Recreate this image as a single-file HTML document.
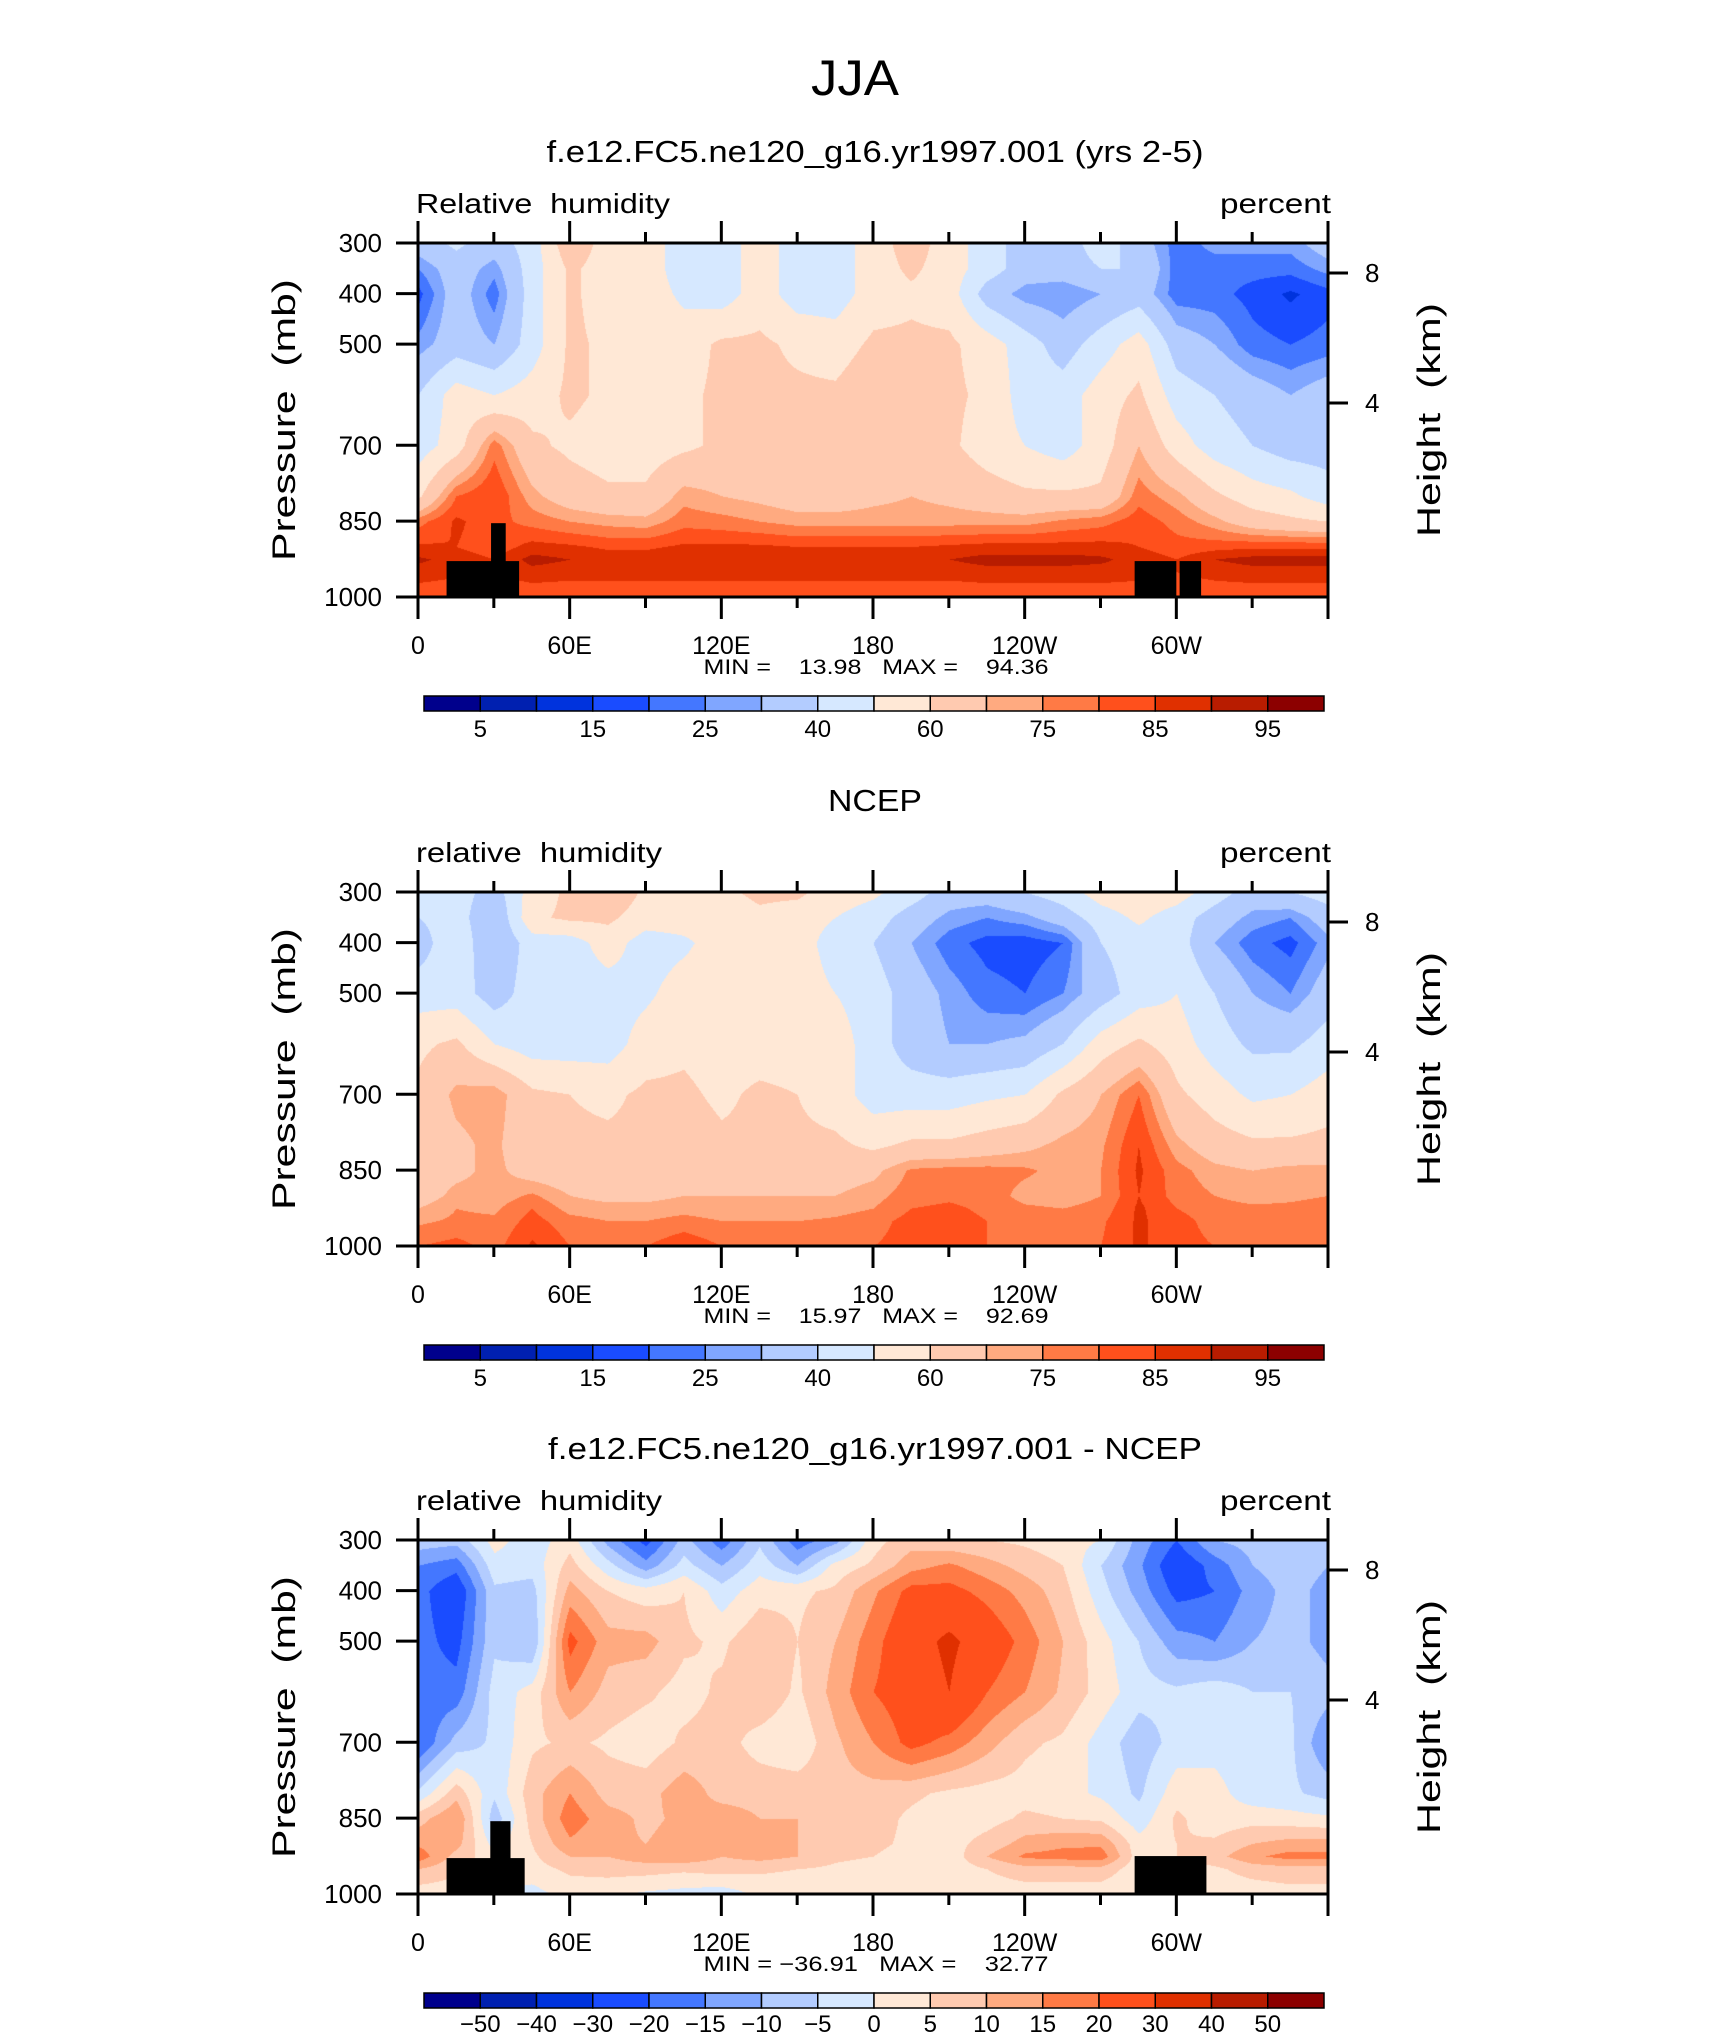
<!DOCTYPE html>
<html><head><meta charset="utf-8">
<style>
html,body{margin:0;padding:0;background:#fff;}
#root{position:relative;width:1710px;height:2038px;overflow:hidden;background:#fff;}
canvas{position:absolute;}
svg{position:absolute;left:0;top:0;}
text{font-family:"Liberation Sans",sans-serif;fill:#000;white-space:pre;}
</style></head>
<body>
<div id="root">
<canvas id="c0" width="910" height="354" style="left:418px;top:243px"></canvas>
<canvas id="c1" width="910" height="354" style="left:418px;top:892px"></canvas>
<canvas id="c2" width="910" height="354" style="left:418px;top:1540px"></canvas>
<svg id="ov" width="1710" height="2038"></svg>
</div>
<script>
// ---- data ----
const lons = [0,15,30,45,60,75,90,105,120,135,150,165,180,195,210,225,240,255,270,285,300,315,330,345,360];
const levels = [300,350,400,500,600,700,800,850,900,925,950,1000];
const modelRH = [
[35,42,35,45,68,55,55,45,45,55,45,45,55,65,55,45,35,35,45,35,22,27,27,27,35],
[25,35,27,45,62,55,55,45,45,55,45,45,55,62,55,45,35,35,40,40,22,22,22,22,27],
[18,35,22,45,62,55,55,48,45,55,45,45,55,58,55,35,27,25,30,35,22,22,18,14,18],
[27,35,30,45,62,58,56,55,62,62,58,55,62,62,62,55,45,35,45,55,35,30,22,20,22],
[40,55,50,55,62,58,55,58,62,62,62,62,68,62,62,58,45,45,55,62,45,40,35,30,35],
[45,55,78,62,58,55,55,58,62,62,62,62,62,62,62,55,50,45,55,70,55,45,40,35,35],
[58,80,85,72,65,62,62,73,70,68,65,65,68,70,68,65,62,62,62,78,72,62,55,52,45],
[78,86,82,78,75,73,72,78,77,75,73,73,73,73,73,73,73,76,78,83,78,72,65,62,60],
[86,85,82,87,86,84,84,86,86,86,85,85,85,85,86,87,87,87,87,85,82,83,84,84,84],
[91,88,85,92,90,88,88,89,88,88,88,88,88,88,90,92,92,92,91,88,85,90,92,92,92],
[88,86,85,88,87,87,87,87,87,87,87,87,87,87,87,88,88,88,88,87,85,87,88,88,88],
[81,81,81,81,81,81,81,81,81,81,81,81,81,81,81,81,81,81,81,81,81,81,81,81,81]];
const ncepRH = [
[45,45,35,55,62,68,58,55,58,62,62,55,52,45,35,35,40,45,55,58,55,45,35,40,45],
[40,45,30,58,62,62,55,55,55,58,55,50,45,35,28,25,28,35,45,52,45,35,28,25,35],
[35,48,30,45,45,55,45,48,55,55,55,45,40,30,22,18,17,20,40,45,45,30,22,18,28],
[45,45,35,45,45,45,48,55,55,55,55,50,45,35,28,22,20,25,35,45,50,40,30,25,35],
[58,62,50,45,45,45,55,58,55,55,55,55,45,35,30,30,32,40,55,62,55,45,38,38,45],
[62,72,74,62,60,58,62,62,58,62,60,55,45,45,45,48,50,62,70,80,62,55,48,50,55],
[62,68,72,62,62,62,62,65,62,62,62,62,58,62,62,65,68,72,74,85,72,65,62,62,63],
[65,68,72,66,64,62,63,64,64,64,65,66,68,76,77,77,76,73,75,86,77,72,70,72,72],
[66,72,72,76,70,68,68,70,70,70,70,70,73,78,79,78,73,72,75,85,78,75,73,74,75],
[70,75,74,80,73,72,72,73,72,72,72,73,75,80,81,79,76,75,77,86,80,77,76,76,77],
[74,76,76,82,77,75,75,77,75,75,75,76,78,82,82,80,78,78,79,86,82,78,78,78,78],
[80,82,78,86,80,80,80,84,80,80,78,80,80,82,82,80,80,80,80,86,82,80,80,80,80]];
const diffRH = [
[-7,-8,2,-3,3,-12,-22,-8,-18,-6,-18,-12,3,8,6,5,4,2,0,-12,-20,-10,-8,-6,-7],
[-15,-18,-2,-3,7,-3,-13,-3,-10,-2,-10,2,6,13,16,12,8,5,-5,-14,-25,-18,-10,-7,-10],
[-18,-25,-6,-7,12,5,2,5,-3,3,4,6,14,22,22,18,13,7,-3,-12,-22,-20,-13,-8,-12],
[-18,-22,-6,-10,22,12,12,6,4,9,5,10,18,26,32,25,18,10,2,-5,-13,-15,-10,-8,-12],
[-18,-18,-3,2,15,8,6,3,6,9,4,12,20,24,30,20,15,9,3,-3,-4,-2,-5,-5,-8],
[-20,-8,-4,4,6,4,2,6,7,3,1,9,15,22,18,12,6,4,-2,-8,-3,-2,-4,-4,-15],
[-4,8,-4,8,15,8,8,13,8,8,8,8,8,6,4,3,3,2,-1,-6,3,2,-3,-4,-7],
[8,15,-8,7,18,12,9,11,13,10,10,9,7,4,2,3,6,5,4,-3,6,2,3,2,1],
[14,12,-2,5,14,11,10,12,10,12,10,8,6,4,3,7,12,14,14,2,5,6,10,12,12],
[18,8,2,4,10,10,13,14,10,12,10,6,5,3,2,10,16,17,18,2,5,8,14,17,17],
[10,6,2,3,6,7,7,6,7,6,5,4,3,2,2,5,8,8,8,2,3,4,7,8,8],
[2,2,0,-2,2,1,-1,-2,-3,1,1,1,1,1,2,2,2,2,2,1,1,2,2,3,3]];
const rhBounds = [5,10,15,20,25,30,40,50,60,70,75,80,85,90,95];
const diffBounds = [-50,-40,-30,-20,-15,-10,-5,0,5,10,15,20,30,40,50];
const palette = ["#00008c","#0020b0","#0033dd","#1a4cff","#4477ff","#80a6ff","#b3ccff","#d6e8ff","#ffe8d6","#ffcab0","#ffaa80","#ff7a45","#ff501c","#e03000","#b81c00","#8c0000"];
const rhLabels = ["5","15","25","40","60","75","85","95"];
const diffLabels = ["\u221250","\u221240","\u221230","\u221220","\u221215","\u221210","\u22125","0","5","10","15","20","30","40","50"];
// topography masks: [lonStart, lonEnd, topPressure]
const topoModel = [[11.3,40,929],[28.9,34.7,854],[283.5,300,929],[301.3,309.8,929]];
const topoDiff = [[11.3,42.2,929],[28.6,36.6,856],[283.5,311.9,925]];
const xTickLons = [0,30,60,90,120,150,180,210,240,270,300,330,360];
const xLabelLons = [0,60,120,180,240,300];
const xLabelText = ["0","60E","120E","180","120W","60W"];
const pTicks = [300,400,500,700,850,1000];
const hTicks = [[8,30],[4,160]]; // km, offset px from top (non-linear height axis)

// ---- geometry ----
const L=418, W=910, H=354;
const tops=[243,892,1540];
function xOf(lon){return L+lon/360*W;}
function yOf(p,top){return top+(p-300)/700*H;}

function sample(grid,lon,p){
  let i=Math.min(Math.floor(lon/15),lons.length-2); let fx=(lon-lons[i])/15;
  let j=0; while(j<levels.length-2 && p>levels[j+1]) j++;
  let fy=(p-levels[j])/(levels[j+1]-levels[j]);
  const a=grid[j][i],b=grid[j][i+1],c=grid[j+1][i],d=grid[j+1][i+1];
  return (a*(1-fx)+b*fx)*(1-fy)+(c*(1-fx)+d*fx)*fy;
}
function hex(h){return [parseInt(h.substr(1,2),16),parseInt(h.substr(3,2),16),parseInt(h.substr(5,2),16)];}
const palRGB=palette.map(hex);
function drawField(id,grid,bounds){
  const cv=document.getElementById(id), ctx=cv.getContext('2d');
  const img=ctx.createImageData(W,H);
  for(let y=0;y<H;y++){const p=300+y/H*700;
    for(let x=0;x<W;x++){const lon=x/W*360; const v=sample(grid,lon,p);
      let k=0; while(k<bounds.length && v>=bounds[k]) k++;
      const c=palRGB[k]; const o=(y*W+x)*4; img.data[o]=c[0];img.data[o+1]=c[1];img.data[o+2]=c[2];img.data[o+3]=255;}}
  ctx.putImageData(img,0,0);
}
drawField('c0',modelRH,rhBounds);
drawField('c1',ncepRH,rhBounds);
drawField('c2',diffRH,diffBounds);

// ---- overlay ----
const NS="http://www.w3.org/2000/svg", svg=document.getElementById('ov');
function mk(tag,attrs,parent){const e=document.createElementNS(NS,tag);for(const k in attrs)e.setAttribute(k,attrs[k]);(parent||svg).appendChild(e);return e;}
function txt(s,attrs,parent){const e=mk('text',attrs,parent);e.textContent=s;return e;}

let t=txt("JJA",{x:855,y:95,'font-size':50,'text-anchor':'middle','textLength':88,'lengthAdjust':'spacingAndGlyphs'});



const titles=["f.e12.FC5.ne120_g16.yr1997.001 (yrs 2-5)","NCEP","f.e12.FC5.ne120_g16.yr1997.001 - NCEP"];
const titleLen=[657,94,654];
const leftLbl=["Relative  humidity","relative  humidity","relative  humidity"];
const leftLen=[254,246,246];
const minmax=["MIN =    13.98   MAX =    94.36","MIN =    15.97   MAX =    92.69","MIN = \u221236.91   MAX =    32.77"];
const names=["model","ncep","difference"];
const topos=[topoModel,null,topoDiff];

for(let k=0;k<3;k++){
  const T=tops[k], B=T+H;
  const g=mk('g',{});
  
  
  let e=txt(titles[k],{x:875,y:T-81,'font-size':31,'text-anchor':'middle',textLength:titleLen[k],lengthAdjust:'spacingAndGlyphs'},g);
  
  
  e=txt(leftLbl[k],{x:416,y:T-30,'font-size':28,textLength:leftLen[k],lengthAdjust:'spacingAndGlyphs'},g);
  
  
  e=txt("percent",{x:1331,y:T-30,'font-size':28,'text-anchor':'end',textLength:111,lengthAdjust:'spacingAndGlyphs'},g);
  
  
  if(topos[k]) topos[k].forEach(r=>{
    const rc=mk('rect',{x:xOf(r[0]),y:yOf(r[2],T),width:xOf(r[1])-xOf(r[0]),height:B-yOf(r[2],T),fill:'#000'},g);
    
    
  });
  e=mk('rect',{x:L,y:T,width:W,height:H,fill:'none',stroke:'#000','stroke-width':3},g);
  
  
  xTickLons.forEach((lon)=>{
    const len=(lon%60===0)?22:11;
    mk('line',{x1:xOf(lon),x2:xOf(lon),y1:T,y2:T-len,stroke:'#000','stroke-width':3},g);
    mk('line',{x1:xOf(lon),x2:xOf(lon),y1:B,y2:B+len,stroke:'#000','stroke-width':3},g);
  });
  xLabelLons.forEach((lon,i)=>{
    const e2=txt(xLabelText[i],{x:xOf(lon),y:B+57,'font-size':25,'text-anchor':'middle'},g);
    
    
  });
  pTicks.forEach(p=>{
    mk('line',{x1:L,x2:L-22,y1:yOf(p,T),y2:yOf(p,T),stroke:'#000','stroke-width':3},g);
    const e2=txt(String(p),{x:382,y:yOf(p,T)+9,'font-size':26,'text-anchor':'end'},g);
    
    
  });
  hTicks.forEach(h=>{
    mk('line',{x1:L+W,x2:L+W+20,y1:T+h[1],y2:T+h[1],stroke:'#000','stroke-width':3},g);
    const e2=txt(String(h[0]),{x:1365,y:T+h[1]+9,'font-size':26},g);
    
    
  });
  e=txt("Pressure  (mb)",{x:0,y:0,'font-size':32,'text-anchor':'middle',textLength:282,lengthAdjust:'spacingAndGlyphs',transform:`translate(295,${T+177}) rotate(-90)`},g);
  
  
  e=txt("Height  (km)",{x:0,y:0,'font-size':32,'text-anchor':'middle',textLength:234,lengthAdjust:'spacingAndGlyphs',transform:`translate(1440,${T+177}) rotate(-90)`},g);
  
  
  e=txt(minmax[k],{x:876,y:B+77,'font-size':21,'text-anchor':'middle',textLength:345,lengthAdjust:'spacingAndGlyphs'},g);
  
  
  const cbL=424, cbW=900, cbT=B+99, cbH=15, bw=cbW/palette.length;
  palette.forEach((c,i)=>{
    const r=mk('rect',{x:cbL+i*bw,y:cbT,width:bw,height:cbH,fill:c,stroke:'#000','stroke-width':1.5},g);
    
    
  });
  if(k<2){
    rhLabels.forEach((s,i)=>{
      const e2=txt(s,{x:cbL+(2*i+1)*bw,y:B+140,'font-size':24,'text-anchor':'middle'},g);
      
      
    });
  } else {
    diffLabels.forEach((s,i)=>{
      const e2=txt(s,{x:cbL+(i+1)*bw,y:B+138,'font-size':24,'text-anchor':'middle'},g);
      
      
    });
  }
}
</script>
</body></html>
